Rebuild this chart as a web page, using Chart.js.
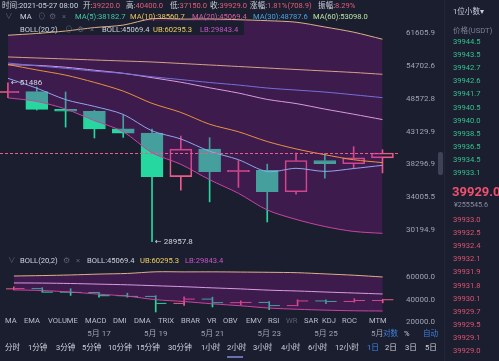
<!DOCTYPE html>
<html><head><meta charset="utf-8">
<script src="https://cdn.jsdelivr.net/npm/chart.js@4.4.1/dist/chart.umd.min.js"></script>
<style>
html,body{margin:0;padding:0;background:#1b1e2f;}
#wrap{position:relative;width:499px;height:361px;overflow:hidden;background:#1b1e2f;font-family:Roboto,"Noto Sans CJK SC",sans-serif;}
.t{position:absolute;white-space:nowrap;font-size:7.6px;line-height:10px;color:#cfd2dd;}
.r{color:#e35d7c}
.ic{color:#5d6175}
.g{color:#34c08e}
.rd{color:#d9546f}
canvas{position:absolute;left:0;}
</style></head>
<body><div id="wrap">
<canvas id="mainChart" width="445" height="253" style="top:0px"></canvas>
<canvas id="subChart" width="445" height="80" style="top:262px"></canvas>

<!-- header row 1 -->
<div class="t" style="left:2px;top:1px">时间:2021-05-27 08:00</div>
<div class="t" style="left:83px;top:1px">开:<span class="r">39220.0</span></div>
<div class="t" style="left:126px;top:1px">高:<span class="r">40400.0</span></div>
<div class="t" style="left:170px;top:1px">低:<span class="r">37150.0</span></div>
<div class="t" style="left:210px;top:1px">收:<span class="r">39929.0</span></div>
<div class="t" style="left:250px;top:1px">涨幅:<span class="r">1.81%(708.9)</span></div>
<div class="t" style="left:318px;top:1px">振幅:<span class="r">8.29%</span></div>
<!-- row 2 -->
<div class="t ic" style="left:5px;top:12px">∨</div>
<div class="t" style="left:20px;top:12px">MA</div>
<div class="t ic" style="left:38px;top:12px">⊙</div>
<div class="t ic" style="left:49px;top:12px">⚙</div>
<div class="t ic" style="left:62px;top:12px">×</div>
<div class="t" style="left:75px;top:12px;color:#46c8a6">MA(5):38182.7</div>
<div class="t" style="left:130px;top:12px;color:#e6c35c">MA(10):38560.7</div>
<div class="t" style="left:192px;top:12px;color:#d25fa6">MA(20):45069.4</div>
<div class="t" style="left:253px;top:12px;color:#4aa3e0">MA(30):48787.6</div>
<div class="t" style="left:313px;top:12px;color:#b9e3a0">MA(60):53098.0</div>
<!-- row 3 -->
<div class="t" style="left:20px;top:25px">BOLL(20,2)</div>
<div class="t ic" style="left:65px;top:25px">⊙</div>
<div class="t ic" style="left:77px;top:25px">⚙</div>
<div class="t ic" style="left:90px;top:25px">×</div>
<div class="t" style="left:102px;top:25px">BOLL:45069.4</div>
<div class="t" style="left:153px;top:25px;color:#f0d060">UB:60295.3</div>
<div class="t" style="left:200px;top:25px;color:#c955c9">LB:29843.4</div>

<!-- lower legend -->
<div class="t ic" style="left:8px;top:256px">∨</div>
<div class="t" style="left:20px;top:256px">BOLL(20,2)</div>
<div class="t ic" style="left:63px;top:256px">⚙</div>
<div class="t ic" style="left:76px;top:256px">×</div>
<div class="t" style="left:87px;top:256px">BOLL:45069.4</div>
<div class="t" style="left:140px;top:256px;color:#f0d060">UB:60295.3</div>
<div class="t" style="left:185px;top:256px;color:#c955c9">LB:29843.4</div>

<!-- indicator buttons row -->
<div style="position:absolute;left:0;top:315px;width:398px;height:12px;background:#1b1e2f"></div>
<div class="t" style="left:5px;top:316px;color:#b9bdcc">MA</div>
<div class="t" style="left:24px;top:316px;color:#b9bdcc">EMA</div>
<div class="t" style="left:48px;top:316px;color:#b9bdcc">VOLUME</div>
<div class="t" style="left:85px;top:316px;color:#b9bdcc">MACD</div>
<div class="t" style="left:113px;top:316px;color:#b9bdcc">DMI</div>
<div class="t" style="left:134px;top:316px;color:#b9bdcc">DMA</div>
<div class="t" style="left:158px;top:316px;color:#b9bdcc">TRIX</div>
<div class="t" style="left:181px;top:316px;color:#b9bdcc">BRAR</div>
<div class="t" style="left:207px;top:316px;color:#b9bdcc">VR</div>
<div class="t" style="left:223px;top:316px;color:#b9bdcc">OBV</div>
<div class="t" style="left:246px;top:316px;color:#b9bdcc">EMV</div>
<div class="t" style="left:268px;top:316px;color:#b9bdcc">RSI</div>
<div class="t" style="left:286px;top:316px;color:#5a5e72">WR</div>
<div class="t" style="left:304px;top:316px;color:#b9bdcc">SAR</div>
<div class="t" style="left:322px;top:316px;color:#b9bdcc">KDJ</div>
<div class="t" style="left:342px;top:316px;color:#b9bdcc">ROC</div>
<div class="t" style="left:369px;top:316px;color:#b9bdcc">MTM</div>

<!-- log/percent/auto overlay -->
<div style="position:absolute;left:383px;top:328px;width:58px;height:12px;background:#1b1e2f"></div>
<div class="t" style="left:383px;top:329px;color:#3f7fd8">对数</div>
<div class="t" style="left:404px;top:329px;color:#c9ccd8">%</div>
<div class="t" style="left:423px;top:329px;color:#3f7fd8">自动</div>

<!-- interval row -->
<div class="t" style="left:5px;top:343px">分时</div>
<div class="t" style="left:28px;top:343px">1分钟</div>
<div class="t" style="left:56px;top:343px">3分钟</div>
<div class="t" style="left:82px;top:343px">5分钟</div>
<div class="t" style="left:108px;top:343px">10分钟</div>
<div class="t" style="left:136px;top:343px">15分钟</div>
<div class="t" style="left:168px;top:343px">30分钟</div>
<div class="t" style="left:201px;top:343px">1小时</div>
<div class="t" style="left:227px;top:343px">2小时</div>
<div class="t" style="left:253px;top:343px">3小时</div>
<div class="t" style="left:281px;top:343px">4小时</div>
<div class="t" style="left:308px;top:343px">6小时</div>
<div class="t" style="left:335px;top:343px">12小时</div>
<div class="t" style="left:367px;top:343px;color:#3d8bf0">1日</div>
<div class="t" style="left:385px;top:343px">2日</div>
<div class="t" style="left:405px;top:343px">3日</div>
<div class="t" style="left:425px;top:343px">5日</div>
<div style="position:absolute;left:227px;top:356px;width:16px;height:2px;background:#6a6fb0"></div>

<!-- handle & separator -->
<div style="position:absolute;left:438px;top:152px;width:5px;height:23px;border-radius:2px;background:#3f4256"></div>
<div style="position:absolute;left:444px;top:0;width:1px;height:361px;background:#23263a"></div>

<!-- order book -->
<div class="t" style="left:453px;top:7px;color:#c9ccd8">1位小数▾</div>
<div class="t" style="left:453px;top:26px;color:#7d8194">价格(USDT)</div>
<div id="asks"></div>
<div class="t" style="left:452px;top:184px;font-size:13px;line-height:16px;font-weight:bold;color:#f0506e">39929.0</div>
<div class="t" style="left:454px;top:200px;font-size:7.2px;color:#8a8ea0">¥255545.6</div>
<div id="bids"></div>
</div>

<script>
// ---------------- DATA ----------------
const categories = ['2021-05-14','2021-05-15','2021-05-16','2021-05-17','2021-05-18','2021-05-19','2021-05-20',
                    '2021-05-21','2021-05-22','2021-05-23','2021-05-24','2021-05-25','2021-05-26','2021-05-27'];
const openP  = [49690, 49880, 46750, 46430, 43560, 42900, 36650, 40500, 37300, 37500, 34700, 38850, 38400, 39220];
const highP  = [51486, 50700, 49800, 46600, 45800, 43550, 42450, 42200, 38850, 38350, 39900, 39850, 40850, 40400];
const lowP   = [48800, 46650, 43850, 42150, 42250, 28957.8, 34900, 33450, 35250, 31100, 34400, 36450, 37750, 37150];
const closeP = [49900, 46750, 46450, 43550, 42900, 36650, 40500, 37300, 37500, 34700, 38850, 38400, 39220, 39929];
const ma5    = [52320, 50490, 48440, 47270, 45910, 43260, 42010, 40180, 38970, 37330, 37770, 37350, 37740, 38182.7];
const ma10   = [55010, 53940, 52940, 51560, 49960, 47790, 46250, 44310, 43120, 41620, 40520, 39680, 38960, 38560.7];
const ma20   = [54960, 54840, 54470, 53890, 53290, 52450, 51590, 50560, 49610, 48480, 47760, 46810, 45950, 45069.4];
const ma30   = [55300, 54750, 54250, 53710, 53260, 52630, 52090, 51540, 51070, 50520, 50150, 49790, 49300, 48787.6];
const ma60   = [56540, 56330, 56130, 55920, 55720, 55520, 55220, 54920, 54620, 54320, 54030, 53740, 53450, 53098.0];
const bollUB = [61170, 61560, 62110, 62890, 63460, 64930, 64850, 64880, 64710, 64480, 64130, 63020, 61850, 60295.3];
const bollLB = [48750, 48130, 46820, 44890, 43120, 39960, 38320, 36240, 34500, 32480, 31390, 30590, 30050, 29843.4];
const priceTicks = [30194.9, 34005.5, 38296.9, 43129.9, 48572.8, 54702.6, 61605.9];
const subTicks = [20000, 40000, 60000];
const dateTickIdx = [3, 5, 7, 9, 11, 13];
const dateLabels = ['5月 17', '5月 19', '5月 21', '5月 23', '5月 25', '5月 27'];
const askPrices = ['39944.5','39943.5','39942.7','39942.6','39941.7','39940.5','39940.0','39938.5','39936.5','39934.5','39933.1'];
const bidPrices = ['39933.0','39932.5','39932.4','39932.1','39931.9','39931.8','39930.1','39929.7','39929.5','39929.1','39929.0'];
const lastPrice = 39929.0;

// ---------------- ORDER BOOK TEXT ----------------
(function(){
  const a = document.getElementById('asks');
  askPrices.forEach((p,i)=>{const d=document.createElement('div');d.className='t g';d.style.left='453px';d.style.top=(37+i*13.1)+'px';d.textContent=p;a.appendChild(d);});
  const b = document.getElementById('bids');
  bidPrices.forEach((p,i)=>{const d=document.createElement('div');d.className='t rd';d.style.left='453px';d.style.top=(215+i*13.1)+'px';d.textContent=p;b.appendChild(d);});
})();

// ---------------- CHART ----------------
Chart.defaults.font.family = 'Roboto, "Noto Sans CJK SC", sans-serif';
Chart.defaults.font.size = 8;
Chart.defaults.animation = false;

const BG = '#1b1e2f';
const UP = '#ee5b8b', DN = '#26d89f';
const FILL = 'rgba(144,21,152,0.29)';
const cUB = '#ddb088', cLB = '#c8459f', cMA5 = '#8fa6ee', cMA10 = '#e8923e', cMA20 = '#d99be0', cMA30 = '#7370db', cMA60 = '#d6a287';
const X_MIN = -0.278, X_MAX = 13.54;

const P = arr => arr.map((v,i)=>({x:i, y:v}));
const isUp = closeP.map((c,i)=>c >= openP[i]);
const candleCol = isUp.map(u => u ? UP : DN);
const bodies = openP.map((o,i)=>({x:i, y:[o, closeP[i]]}));
const wickHi = openP.map((o,i)=>({x:i, y:[Math.max(o, closeP[i]), highP[i]]}));
const wickLo = openP.map((o,i)=>({x:i, y:[lowP[i], Math.min(o, closeP[i])]}));
const line = (data, color, order, extra) => Object.assign({type:'line', data:P(data), borderColor:color, borderWidth:1,
   pointRadius:0, tension:0.3, fill:false, order}, extra || {});
const fitY = s => { s.width = 47; s.paddingTop = 0; s.paddingBottom = 0; };
const fitX = s => { s.height = 20; s.paddingLeft = 0; s.paddingRight = 0; };

const UB_INDEX = 3;
const mainDecor = {
  id: 'mainDecor',
  beforeDatasetDraw(chart, args){
    if (args.index !== UB_INDEX) return;
    const ctx = chart.ctx;
    ctx.save(); ctx.fillStyle = BG; ctx.fillRect(0, 21, 244, 14); ctx.restore();
  },
  afterDatasetsDraw(chart){
    const {ctx, chartArea, scales:{x, y}} = chart;
    ctx.save();
    const py = Math.round(y.getPixelForValue(lastPrice)) + 0.5;
    ctx.setLineDash([3,2]); ctx.strokeStyle = UP; ctx.lineWidth = 1;
    ctx.beginPath(); ctx.moveTo(chartArea.left, py); ctx.lineTo(chartArea.right, py); ctx.stroke();
    ctx.setLineDash([]);
    ctx.fillStyle = '#d3d6e0'; ctx.font = '8px Roboto, "DejaVu Sans", sans-serif';
    ctx.textBaseline = 'middle'; ctx.textAlign = 'left';
    const hi = Math.max(...highP), hiI = highP.indexOf(hi);
    const lo = Math.min(...lowP), loI = lowP.indexOf(lo);
    ctx.fillText('← ' + hi, x.getPixelForValue(hiI) + 3, y.getPixelForValue(hi));
    ctx.fillText('← ' + lo.toFixed(1), x.getPixelForValue(loI) + 3, y.getPixelForValue(lo));
    ctx.restore();
  }
};

new Chart(document.getElementById('mainChart'), {
  type: 'bar',
  data: { datasets: [
    {type:'bar', data:wickHi, backgroundColor:candleCol, borderWidth:0, barThickness:1, grouped:false, order:10},
    {type:'bar', data:wickLo, backgroundColor:candleCol, borderWidth:0, barThickness:1, grouped:false, order:10},
    {type:'bar', data:bodies, backgroundColor:isUp.map(u=>u?'rgba(0,0,0,0)':DN), borderColor:candleCol,
       borderWidth:1, borderSkipped:false, barThickness:22, grouped:false, order:9},
    line(bollUB, cUB, 5, {fill:'+1', backgroundColor:FILL}),
    line(bollLB, cLB, 4),
    line(ma60, cMA60, 3),
    line(ma30, cMA30, 3),
    line(ma20, cMA20, 3),
    line(ma10, cMA10, 2),
    line(ma5, cMA5, 1)
  ]},
  options: {
    responsive:false, devicePixelRatio:1, animation:false, events:[],
    layout:{padding:{top:12, bottom:3, left:0, right:0}},
    plugins:{legend:{display:false}, tooltip:{enabled:false}},
    scales:{
      x:{type:'linear', min:X_MIN, max:X_MAX, offset:false, display:false},
      y:{type:'logarithmic', position:'right', min:28095, max:66540,
         afterFit: fitY,
         afterBuildTicks(s){ s.ticks = priceTicks.map(v=>({value:v})); },
         ticks:{callback:v=>Number(v).toFixed(1), color:'#9ea2b4', padding:8, font:{size:8}},
         grid:{display:false, drawTicks:false}, border:{display:false}}
    }
  },
  plugins:[mainDecor]
});

new Chart(document.getElementById('subChart'), {
  type: 'bar',
  data: { datasets: [
    {type:'bar', data:openP.map((o,i)=>({x:i, y:[lowP[i], highP[i]]})), backgroundColor:candleCol, borderWidth:0, barThickness:1, grouped:false, order:10},
    {type:'line', data:openP.map((o,i)=>({x:i-0.2, y:o})), showLine:false, pointStyle:'line', pointRadius:5,
       pointBorderColor:candleCol, pointBorderWidth:1, order:9},
    {type:'line', data:closeP.map((c,i)=>({x:i+0.2, y:c})), showLine:false, pointStyle:'line', pointRadius:5,
       pointBorderColor:candleCol, pointBorderWidth:1, order:9},
    line(bollUB, cUB, 5, {fill:'+1', backgroundColor:FILL}),
    line(bollLB, cLB, 4),
    line(ma20, cMA20, 3)
  ]},
  options: {
    responsive:false, devicePixelRatio:1, animation:false, events:[],
    layout:{padding:{top:2, bottom:0, left:0, right:0}},
    plugins:{legend:{display:false}, tooltip:{enabled:false}},
    scales:{
      x:{type:'linear', min:X_MIN, max:X_MAX, offset:false, position:'bottom',
         afterFit: fitX,
         afterBuildTicks(s){ s.ticks = dateTickIdx.map(v=>({value:v})); },
         ticks:{callback:v=>dateLabels[dateTickIdx.indexOf(v)], color:'#9ea2b4', padding:7, maxRotation:0, autoSkip:false, font:{size:8}},
         grid:{display:false, drawTicks:false}, border:{display:false}},
      y:{type:'linear', position:'right', min:20000, max:68333,
         afterFit: fitY,
         afterBuildTicks(s){ s.ticks = subTicks.map(v=>({value:v})); },
         ticks:{callback:v=>Number(v).toFixed(1), color:'#9ea2b4', padding:8, font:{size:8}},
         grid:{display:false, drawTicks:false}, border:{display:false}}
    }
  }
});
</script>
</body></html>
